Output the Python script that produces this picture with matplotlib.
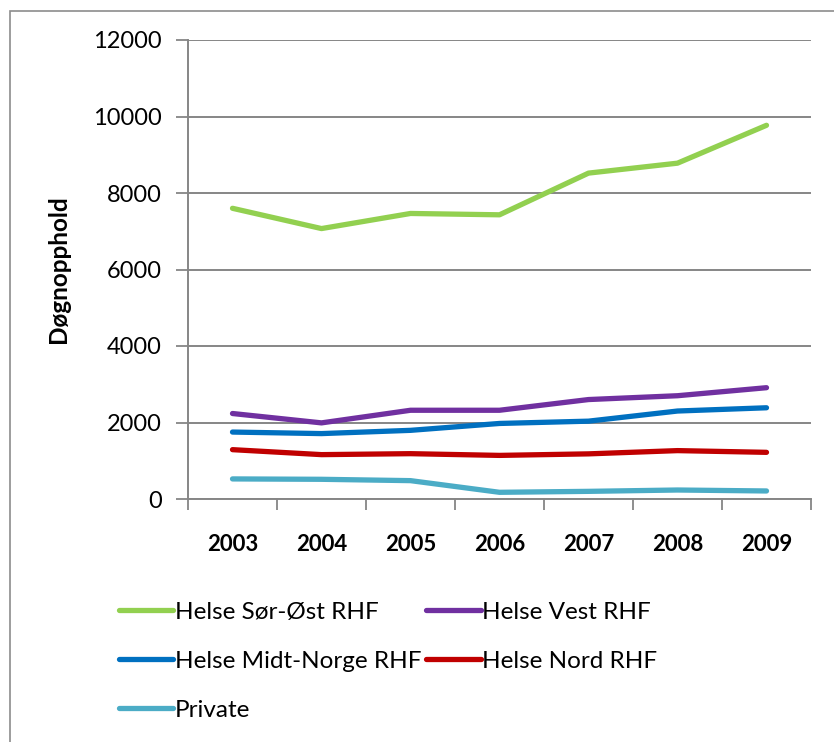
import matplotlib
matplotlib.use("Agg")
import matplotlib.pyplot as plt
from matplotlib.patches import Rectangle

plt.rcParams['font.family'] = ['Lato', 'DejaVu Sans']

years = ["2003", "2004", "2005", "2006", "2007", "2008", "2009"]
sor_ost = [7600, 7070, 7465, 7430, 8520, 8780, 9770]
vest = [2235, 1990, 2320, 2320, 2600, 2700, 2910]
midt_norge = [1750, 1710, 1795, 1975, 2035, 2300, 2385]
nord = [1290, 1160, 1185, 1140, 1180, 1265, 1220]
private = [525, 515, 480, 175, 200, 235, 210]
yticks = [0, 2000, 4000, 6000, 8000, 10000, 12000]

series = [
    ("Helse Sør-Øst RHF", sor_ost, "#92D050"),
    ("Helse Vest RHF", vest, "#7030A0"),
    ("Helse Midt-Norge RHF", midt_norge, "#0070C0"),
    ("Helse Nord RHF", nord, "#C00000"),
    ("Private", private, "#4BACC6"),
]

W, H = 834, 742
fig = plt.figure(figsize=(W / 100, H / 100), dpi=100)
fig.patches.append(Rectangle((9.5 / W, -0.5), 2.0, (H - 10.5) / H + 0.5,
                             transform=fig.transFigure, fill=False,
                             edgecolor="#8c8c8c", linewidth=1.2))

ax = fig.add_axes([188 / W, 1 - 499 / H, (811 - 188) / W, (499 - 40) / H])
gray = "#868686"
x = [i + 0.5 for i in range(len(years))]
handles = {}
for name, vals, col in series:
    ln, = ax.plot(x, vals, color=col, linewidth=3.8, solid_capstyle="round",
                  solid_joinstyle="round", label=name)
    handles[name] = ln

ax.set_xlim(0, len(years))
ax.set_ylim(0, 12000)
ax.set_yticks(yticks)
ax.set_yticklabels([str(v) for v in yticks])
ax.set_xticks(range(len(years) + 1))
ax.set_xticklabels([])
ax.set_xticks(x, minor=True)
ax.set_xticklabels(years, minor=True, fontweight="bold", fontsize=16)
ax.tick_params(axis="x", which="minor", length=0, pad=25.5)
ax.tick_params(axis="x", which="major", length=8, width=1.3, color=gray, direction="out")
ax.tick_params(axis="y", length=9, width=1.3, color=gray, direction="out",
               labelsize=17, pad=10)
ax.grid(axis="y", color=gray, linewidth=1.4)
ax.set_axisbelow(True)
for s in ["top", "right"]:
    ax.spines[s].set_visible(False)
for s in ["left", "bottom"]:
    ax.spines[s].set_color(gray)
    ax.spines[s].set_linewidth(1.4)

ax.set_ylabel("Døgnopphold", fontweight="bold", fontsize=17.5)
ax.yaxis.set_label_coords((70 - 188) / 623, 0.5)

order = ["Helse Sør-Øst RHF", "Helse Midt-Norge RHF", "Private",
         "Helse Vest RHF", "Helse Nord RHF"]
leg = fig.legend([handles[n] for n in order], order, ncol=2, loc="upper left",
                 bbox_to_anchor=(109 / W, 1 - 592 / H), frameon=False,
                 fontsize=17.5, handlelength=2.25, handletextpad=0.05,
                 columnspacing=0.2, labelspacing=1.15, borderaxespad=0)

fig.savefig("out.png", dpi=100)
